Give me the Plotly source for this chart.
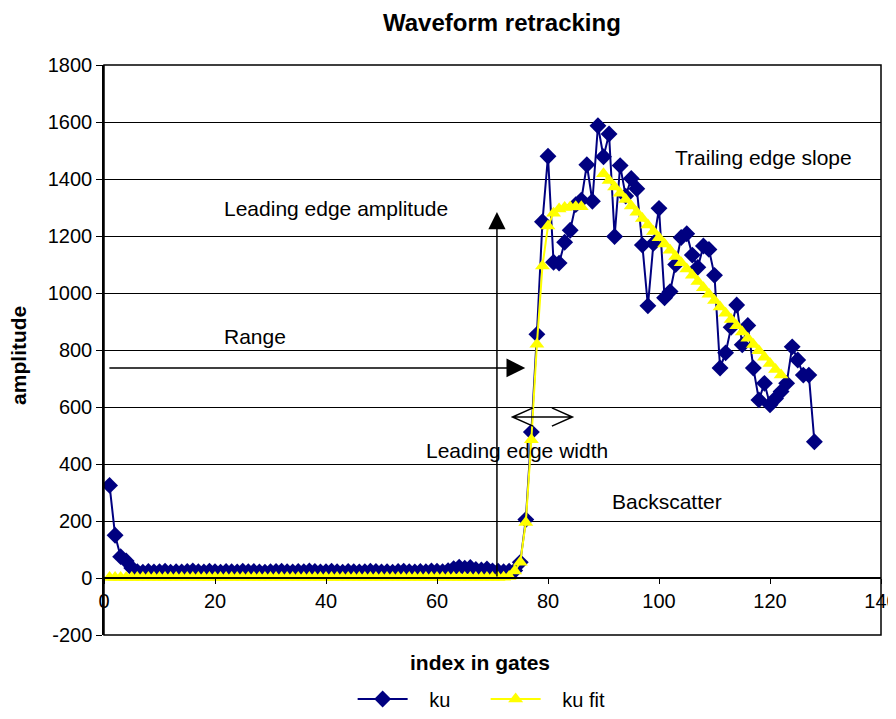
import plotly.graph_objects as go

# ---------------- data ----------------
gate_index = list(range(1, 129))
ku = [325, 150, 75, 60, 35,
      22, 20, 23, 21, 22, 24, 20, 22, 21, 23, 25, 22, 21, 24, 22, 20, 23, 22, 21, 24,
      22, 23, 21, 20, 22, 23, 24, 22, 21, 23, 22, 25, 23, 21, 22, 24, 22, 20, 23, 22,
      21, 22, 24, 23, 21, 22, 20, 23, 24, 22, 21, 23, 22, 25, 24, 22, 26,
      33, 38, 34, 37, 30, 28, 32, 25, 24, 22, 24, 26,
      55, 205, 512, 855, 1250, 1480, 1108, 1105, 1178, 1220, 1310, 1326, 1450, 1322,
      1587, 1478, 1558, 1198, 1447, 1340, 1402, 1366, 1168, 955, 1174, 1297, 983, 1005,
      1100, 1195, 1208, 1133, 1090, 1165, 1153, 1062, 737, 790, 880, 958, 818, 886,
      737, 625, 683, 608, 630, 654, 683, 811, 765, 712, 712, 478]

fit_index = list(range(1, 123))
ku_fit = [
    2, 2, 2, 2, 2, 2, 2, 2, 2, 2, 2, 2, 2, 2, 2, 2, 2, 2, 2, 2,
    2, 2, 2, 2, 2, 2, 2, 2, 2, 2, 2, 2, 2, 2, 2, 2, 2, 2, 2, 2,
    2, 2, 2, 2, 2, 2, 2, 2, 2, 2, 2, 2, 2, 2, 2, 2, 2, 2, 2, 2,
    2, 2, 2, 2, 2, 2, 2, 2, 2, 2, 2, 3, 5, 25,
    55, 195, 485, 820, 1095, 1235, 1280, 1295, 1300, 1302, 1303, 1303,
    None, None, None,
    1418, 1395, 1372, 1350, 1328, 1305, 1283, 1261, 1239, 1216, 1194, 1172,
    1150, 1128, 1106, 1084, 1062, 1040, 1018, 996, 974, 951, 929, 907,
    885, 863, 841, 819, 797, 775, 753, 732, 712]

x_ticks = [0, 20, 40, 60, 80, 100, 120, 140]
y_ticks = [-200, 0, 200, 400, 600, 800, 1000, 1200, 1400, 1600, 1800]

FONT = "Liberation Sans, Arial, sans-serif"
NB = "\u00a0"

fig = go.Figure()
fig.add_trace(go.Scatter(
    x=gate_index, y=ku, name=NB * 3 + "ku", mode="lines+markers",
    line=dict(color="#000080", width=2),
    marker=dict(symbol="diamond", size=13, color="#000080"),
))
fig.add_trace(go.Scatter(
    x=fit_index, y=ku_fit, name=NB * 3 + "ku fit", mode="lines+markers",
    connectgaps=False,
    line=dict(color="#FFFF00", width=2),
    marker=dict(symbol="triangle-up", size=13, color="#FFFF00"),
))

annotations = []
# arrows
annotations.append(dict(x=75.9, y=737, ax=0.7, ay=737, xref="x", yref="y", axref="x", ayref="y",
                        text="", showarrow=True, arrowhead=2, arrowsize=2.5, arrowwidth=1.5,
                        arrowcolor="black"))
annotations.append(dict(x=70.8, y=1284, ax=70.8, ay=0, xref="x", yref="y", axref="x", ayref="y",
                        text="", showarrow=True, arrowhead=2, arrowsize=2.3, arrowwidth=1.5,
                        arrowcolor="black"))
# texts
texts = [
    ("Range", 21.3, 849),
    ("Leading edge amplitude", 21.3, 1298),
    ("Leading edge width", 57.7, 446),
    ("Backscatter", 91.2, 267),
    ("Trailing edge slope", 102.5, 1474),
]
for t, x, y in texts:
    annotations.append(dict(x=x, y=y, xref="x", yref="y", text=t, showarrow=False,
                            xanchor="left", yanchor="middle",
                            font=dict(family=FONT, size=21, color="black")))
# chart title and axis titles
annotations.append(dict(x=0.512, y=1.075, xref="paper", yref="paper", text="<b>Waveform retracking</b>",
                        showarrow=False, xanchor="center", yanchor="middle",
                        font=dict(family=FONT, size=24, color="black")))
annotations.append(dict(x=0.484, y=-0.049, xref="paper", yref="paper", text="<b>index in gates</b>",
                        showarrow=False, xanchor="center", yanchor="middle",
                        font=dict(family=FONT, size=21, color="black")))
annotations.append(dict(x=-0.111, y=0.491, xref="paper", yref="paper", text="<b>amplitude</b>",
                        showarrow=False, xanchor="center", yanchor="middle", textangle=-90,
                        font=dict(family=FONT, size=21, color="black")))

shapes = [
    dict(type="rect", xref="paper", yref="paper", x0=0, y0=0, x1=1, y1=1,
         line=dict(color="black", width=1.5), layer="above"),
    # double-headed open arrow (leading edge width)
    dict(type="path", xref="x", yref="y",
         path="M 73.6,565 L 84.4,565 M 77.3,597 L 73.6,565 L 77.3,533 M 80.7,597 L 84.4,565 L 80.7,533",
         line=dict(color="black", width=1.5)),
]

fig.update_layout(
    width=888, height=703,
    margin=dict(l=96, r=15, t=57, b=76),
    paper_bgcolor="white", plot_bgcolor="white",
    font=dict(family=FONT, size=20, color="black"),
    xaxis=dict(range=[0, 140], tickvals=x_ticks, ticktext=[str(v) for v in x_ticks],
               showgrid=False, zeroline=False, showline=True, linecolor="black", linewidth=1.5,
               ticks="outside", ticklen=5, tickcolor="black", anchor="free", position=0.1,
               automargin=False, ticklabeloverflow="allow",
               tickfont=dict(family=FONT, size=20)),
    yaxis=dict(range=[-200, 1800], tickvals=y_ticks, ticktext=[str(v) for v in y_ticks],
               showgrid=True, gridcolor="black", gridwidth=1, zeroline=False,
               showline=True, linecolor="black", linewidth=1.5,
               ticks="outside", ticklen=6, tickcolor="black", automargin=False,
               tickfont=dict(family=FONT, size=20)),
    showlegend=True,
    legend=dict(orientation="h", x=0.32, xanchor="left", xref="paper",
                y=0.017, yref="container", yanchor="middle",
                font=dict(family=FONT, size=20), itemwidth=50,
                entrywidth=68, entrywidthmode="pixels"),
    annotations=annotations,
    shapes=shapes,
)

fig.write_html("out.html")
